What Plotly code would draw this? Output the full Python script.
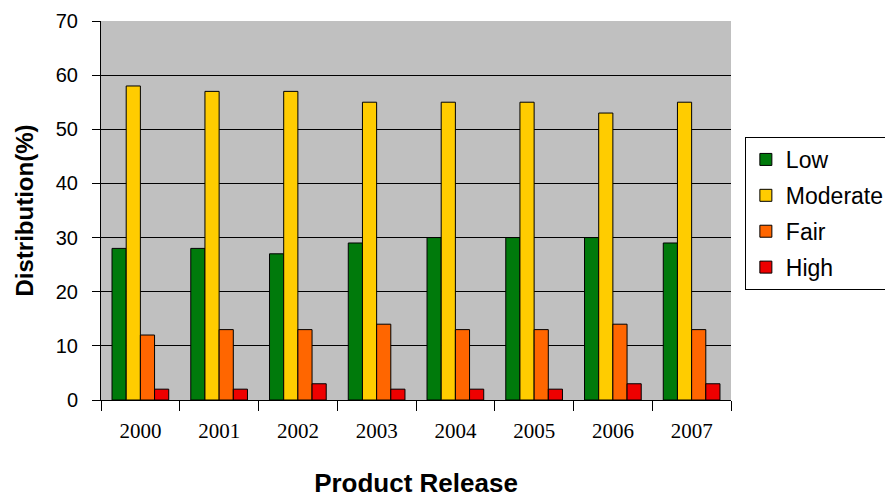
import plotly.graph_objects as go

releases = ["2000", "2001", "2002", "2003", "2004", "2005", "2006", "2007"]
low = [28, 28, 27, 29, 30, 30, 30, 29]
moderate = [58, 57, 57, 55, 55, 55, 53, 55]
fair = [12, 13, 13, 14, 13, 13, 14, 13]
high = [2, 2, 3, 2, 2, 2, 3, 3]

series = [
    ("Low", low, "#007A0B"),
    ("Moderate", moderate, "#FFCC00"),
    ("Fair", fair, "#FF6600"),
    ("High", high, "#EE0000"),
]

fig = go.Figure()
for i, (name, vals, color) in enumerate(series):
    fig.add_trace(go.Bar(
        x=releases, y=vals, name=name,
        marker=dict(color=color, line=dict(color="#000000", width=1)),
        legendgroup=str(i),
    ))

fig.update_layout(
    width=885, height=498,
    margin=dict(l=101, r=154, t=21, b=98, autoexpand=False),
    paper_bgcolor="white",
    plot_bgcolor="#C0C0C0",
    barmode="group",
    bargap=0.28,
    bargroupgap=0,
    font=dict(family="Arial, Liberation Sans, sans-serif", color="#000000"),
    showlegend=True,
    legend=dict(
        x=1.022, y=0.694, xanchor="left", yanchor="top",
        bgcolor="white", bordercolor="#000000", borderwidth=1,
        font=dict(size=23, family="Arial, Liberation Sans, sans-serif"),
        tracegroupgap=3,
        itemwidth=30,
    ),
    xaxis=dict(
        type="category",
        tickson="boundaries",
        ticks="outside", ticklen=10, tickcolor="#000000",
        showline=True, linecolor="#000000", linewidth=1,
        tickfont=dict(family="Times New Roman, Liberation Serif, serif", size=21),
        ticklabelstandoff=12,
        title=dict(text="<b>Product Release</b>", font=dict(size=26), standoff=32),
        showgrid=False,
    ),
    yaxis=dict(
        range=[0, 70], dtick=10,
        ticks="outside", ticklen=8, tickcolor="#000000",
        showline=True, linecolor="#000000", linewidth=1,
        gridcolor="#000000", gridwidth=1.3,
        tickfont=dict(size=20),
        ticklabelstandoff=10,
        zeroline=False,
    ),
    annotations=[dict(
        text="<b>Distribution(%)</b>",
        xref="paper", yref="paper", x=0, y=0.5,
        xanchor="center", yanchor="middle",
        xshift=-77, textangle=-90, showarrow=False,
        font=dict(size=24),
    )],
)

fig.write_html("out.html")
